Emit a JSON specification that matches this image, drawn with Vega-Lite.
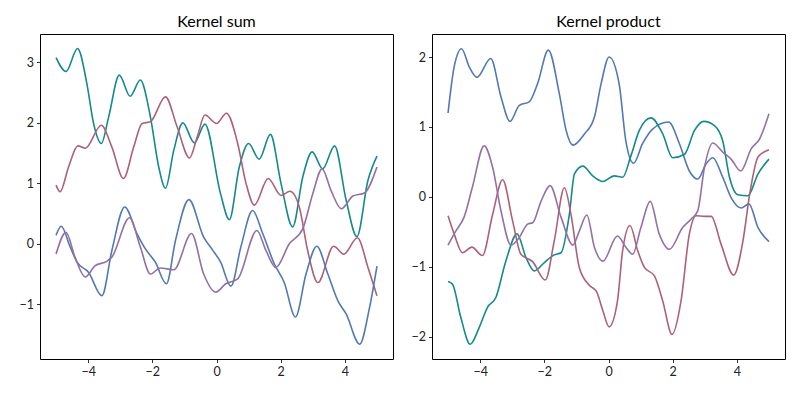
{
  "$schema": "https://vega.github.io/schema/vega-lite/v6.json",
  "background": "white",
  "padding": {"left": 18, "top": 13, "right": 10, "bottom": 10},
  "spacing": 39,
  "bounds": "flush",
  "config": {
    "view": {"stroke": "black", "strokeWidth": 1},
    "font": "Lato",
    "title": {"fontSize": 16, "fontWeight": "normal", "font": "Lato", "color": "black", "offset": 4},
    "axis": {
      "domain": false,
      "grid": false,
      "ticks": true,
      "tickColor": "black",
      "tickSize": 3.5,
      "tickWidth": 0.8,
      "labelColor": "#222222",
      "labelFont": "Lato",
      "labelFontSize": 12.5,
      "labelPadding": 3,
      "title": null
    },
    "line": {"strokeWidth": 1.6, "interpolate": "monotone"}
  },
  "datasets": {
    "sum": [
      {"series": "teal", "x": -5, "y": 3.08}, {"series": "teal", "x": -4.69, "y": 2.85}, {"series": "teal", "x": -4.33, "y": 3.23}, {"series": "teal", "x": -4.04, "y": 2.65}, {"series": "teal", "x": -3.83, "y": 1.99}, {"series": "teal", "x": -3.59, "y": 1.66}, {"series": "teal", "x": -3.36, "y": 2.1}, {"series": "teal", "x": -3.03, "y": 2.79}, {"series": "teal", "x": -2.69, "y": 2.44}, {"series": "teal", "x": -2.375, "y": 2.71}, {"series": "teal", "x": -2.06, "y": 2.1}, {"series": "teal", "x": -1.8, "y": 1.27}, {"series": "teal", "x": -1.59, "y": 0.92}, {"series": "teal", "x": -1.33, "y": 1.55}, {"series": "teal", "x": -1.05, "y": 2.0}, {"series": "teal", "x": -0.69, "y": 1.67}, {"series": "teal", "x": -0.36, "y": 1.98}, {"series": "teal", "x": 0.125, "y": 0.83}, {"series": "teal", "x": 0.4, "y": 0.4}, {"series": "teal", "x": 0.71, "y": 1.27}, {"series": "teal", "x": 1.0, "y": 1.66}, {"series": "teal", "x": 1.33, "y": 1.4}, {"series": "teal", "x": 1.68, "y": 1.81}, {"series": "teal", "x": 2.01, "y": 1.0}, {"series": "teal", "x": 2.375, "y": 0.28}, {"series": "teal", "x": 2.69, "y": 1.11}, {"series": "teal", "x": 2.98, "y": 1.52}, {"series": "teal", "x": 3.31, "y": 1.24}, {"series": "teal", "x": 3.68, "y": 1.62}, {"series": "teal", "x": 4.04, "y": 0.72}, {"series": "teal", "x": 4.375, "y": 0.12}, {"series": "teal", "x": 4.72, "y": 1.05}, {"series": "teal", "x": 5, "y": 1.45},
      {"series": "mauve", "x": -5, "y": 0.97}, {"series": "mauve", "x": -4.875, "y": 0.86}, {"series": "mauve", "x": -4.61, "y": 1.27}, {"series": "mauve", "x": -4.32, "y": 1.62}, {"series": "mauve", "x": -4.09, "y": 1.58}, {"series": "mauve", "x": -3.59, "y": 1.96}, {"series": "mauve", "x": -3.26, "y": 1.6}, {"series": "mauve", "x": -2.9, "y": 1.08}, {"series": "mauve", "x": -2.58, "y": 1.6}, {"series": "mauve", "x": -2.32, "y": 1.99}, {"series": "mauve", "x": -2.06, "y": 2.02}, {"series": "mauve", "x": -1.59, "y": 2.43}, {"series": "mauve", "x": -1.23, "y": 1.94}, {"series": "mauve", "x": -0.84, "y": 1.42}, {"series": "mauve", "x": -0.6, "y": 1.77}, {"series": "mauve", "x": -0.36, "y": 2.13}, {"series": "mauve", "x": 0, "y": 1.99}, {"series": "mauve", "x": 0.31, "y": 2.16}, {"series": "mauve", "x": 0.66, "y": 1.66}, {"series": "mauve", "x": 0.92, "y": 1.0}, {"series": "mauve", "x": 1.18, "y": 0.64}, {"series": "mauve", "x": 1.61, "y": 1.08}, {"series": "mauve", "x": 2.01, "y": 0.8}, {"series": "mauve", "x": 2.29, "y": 0.87}, {"series": "mauve", "x": 2.58, "y": 0.61}, {"series": "mauve", "x": 2.84, "y": -0.11}, {"series": "mauve", "x": 3.16, "y": -0.64}, {"series": "mauve", "x": 3.65, "y": -0.04}, {"series": "mauve", "x": 3.97, "y": -0.17}, {"series": "mauve", "x": 4.39, "y": 0.1}, {"series": "mauve", "x": 4.72, "y": -0.39}, {"series": "mauve", "x": 5, "y": -0.86},
      {"series": "blue", "x": -5, "y": 0.14}, {"series": "blue", "x": -4.84, "y": 0.29}, {"series": "blue", "x": -4.56, "y": -0.05}, {"series": "blue", "x": -4.35, "y": -0.3}, {"series": "blue", "x": -3.99, "y": -0.47}, {"series": "blue", "x": -3.57, "y": -0.86}, {"series": "blue", "x": -3.26, "y": -0.11}, {"series": "blue", "x": -2.86, "y": 0.61}, {"series": "blue", "x": -2.48, "y": 0.17}, {"series": "blue", "x": -2.22, "y": -0.08}, {"series": "blue", "x": -1.91, "y": -0.3}, {"series": "blue", "x": -1.56, "y": -0.66}, {"series": "blue", "x": -1.28, "y": 0.05}, {"series": "blue", "x": -0.86, "y": 0.73}, {"series": "blue", "x": -0.4, "y": 0.11}, {"series": "blue", "x": -0.125, "y": -0.1}, {"series": "blue", "x": 0.125, "y": -0.3}, {"series": "blue", "x": 0.45, "y": -0.7}, {"series": "blue", "x": 0.76, "y": -0.05}, {"series": "blue", "x": 1.125, "y": 0.55}, {"series": "blue", "x": 1.44, "y": 0.17}, {"series": "blue", "x": 1.8, "y": -0.33}, {"series": "blue", "x": 2.11, "y": -0.64}, {"series": "blue", "x": 2.46, "y": -1.21}, {"series": "blue", "x": 2.79, "y": -0.5}, {"series": "blue", "x": 3.125, "y": -0.04}, {"series": "blue", "x": 3.47, "y": -0.5}, {"series": "blue", "x": 3.78, "y": -0.94}, {"series": "blue", "x": 4.04, "y": -1.16}, {"series": "blue", "x": 4.46, "y": -1.66}, {"series": "blue", "x": 4.77, "y": -1.05}, {"series": "blue", "x": 5, "y": -0.37},
      {"series": "purple", "x": -5, "y": -0.17}, {"series": "purple", "x": -4.69, "y": 0.19}, {"series": "purple", "x": -4.41, "y": -0.22}, {"series": "purple", "x": -4.09, "y": -0.55}, {"series": "purple", "x": -3.78, "y": -0.36}, {"series": "purple", "x": -3.42, "y": -0.29}, {"series": "purple", "x": -3.26, "y": -0.22}, {"series": "purple", "x": -2.71, "y": 0.43}, {"series": "purple", "x": -2.375, "y": -0.05}, {"series": "purple", "x": -2.06, "y": -0.5}, {"series": "purple", "x": -1.75, "y": -0.4}, {"series": "purple", "x": -1.33, "y": -0.43}, {"series": "purple", "x": -0.78, "y": 0.17}, {"series": "purple", "x": -0.4, "y": -0.5}, {"series": "purple", "x": -0.03, "y": -0.8}, {"series": "purple", "x": 0.29, "y": -0.66}, {"series": "purple", "x": 0.66, "y": -0.58}, {"series": "purple", "x": 1.26, "y": 0.22}, {"series": "purple", "x": 1.54, "y": -0.11}, {"series": "purple", "x": 1.85, "y": -0.39}, {"series": "purple", "x": 2.27, "y": 0.0}, {"series": "purple", "x": 2.69, "y": 0.25}, {"series": "purple", "x": 3.0, "y": 0.83}, {"series": "purple", "x": 3.29, "y": 1.24}, {"series": "purple", "x": 3.57, "y": 0.88}, {"series": "purple", "x": 3.89, "y": 0.58}, {"series": "purple", "x": 4.25, "y": 0.79}, {"series": "purple", "x": 4.61, "y": 0.84}, {"series": "purple", "x": 5, "y": 1.27}
    ],
    "product": [
      {"series": "blue", "x": -5, "y": 1.2}, {"series": "blue", "x": -4.81, "y": 1.86}, {"series": "blue", "x": -4.58, "y": 2.12}, {"series": "blue", "x": -4.34, "y": 1.86}, {"series": "blue", "x": -4.1, "y": 1.71}, {"series": "blue", "x": -3.67, "y": 1.98}, {"series": "blue", "x": -3.35, "y": 1.43}, {"series": "blue", "x": -3.07, "y": 1.08}, {"series": "blue", "x": -2.78, "y": 1.31}, {"series": "blue", "x": -2.47, "y": 1.36}, {"series": "blue", "x": -2.21, "y": 1.62}, {"series": "blue", "x": -1.875, "y": 2.1}, {"series": "blue", "x": -1.53, "y": 1.47}, {"series": "blue", "x": -1.32, "y": 0.95}, {"series": "blue", "x": -1.11, "y": 0.74}, {"series": "blue", "x": -0.75, "y": 0.9}, {"series": "blue", "x": -0.44, "y": 1.14}, {"series": "blue", "x": -0.23, "y": 1.62}, {"series": "blue", "x": 0.02, "y": 2.0}, {"series": "blue", "x": 0.33, "y": 1.62}, {"series": "blue", "x": 0.54, "y": 0.8}, {"series": "blue", "x": 0.78, "y": 0.48}, {"series": "blue", "x": 1.06, "y": 0.76}, {"series": "blue", "x": 1.375, "y": 0.97}, {"series": "blue", "x": 1.875, "y": 1.07}, {"series": "blue", "x": 2.21, "y": 0.76}, {"series": "blue", "x": 2.52, "y": 0.37}, {"series": "blue", "x": 2.78, "y": 0.255}, {"series": "blue", "x": 3.04, "y": 0.47}, {"series": "blue", "x": 3.25, "y": 0.56}, {"series": "blue", "x": 3.56, "y": 0.28}, {"series": "blue", "x": 3.82, "y": -0.01}, {"series": "blue", "x": 4.14, "y": -0.16}, {"series": "blue", "x": 4.375, "y": -0.1}, {"series": "blue", "x": 4.66, "y": -0.44}, {"series": "blue", "x": 5, "y": -0.64},
      {"series": "teal", "x": -5, "y": -1.21}, {"series": "teal", "x": -4.86, "y": -1.25}, {"series": "teal", "x": -4.6, "y": -1.73}, {"series": "teal", "x": -4.31, "y": -2.11}, {"series": "teal", "x": -4.03, "y": -1.87}, {"series": "teal", "x": -3.77, "y": -1.58}, {"series": "teal", "x": -3.51, "y": -1.44}, {"series": "teal", "x": -3.2, "y": -0.92}, {"series": "teal", "x": -2.85, "y": -0.53}, {"series": "teal", "x": -2.57, "y": -0.87}, {"series": "teal", "x": -2.31, "y": -1.06}, {"series": "teal", "x": -2.0, "y": -0.94}, {"series": "teal", "x": -1.69, "y": -0.83}, {"series": "teal", "x": -1.48, "y": -0.8}, {"series": "teal", "x": -1.22, "y": -0.25}, {"series": "teal", "x": -1.06, "y": 0.33}, {"series": "teal", "x": -0.8, "y": 0.44}, {"series": "teal", "x": -0.49, "y": 0.3}, {"series": "teal", "x": -0.175, "y": 0.22}, {"series": "teal", "x": 0.18, "y": 0.3}, {"series": "teal", "x": 0.44, "y": 0.28}, {"series": "teal", "x": 0.7, "y": 0.59}, {"series": "teal", "x": 0.96, "y": 0.95}, {"series": "teal", "x": 1.325, "y": 1.13}, {"series": "teal", "x": 1.69, "y": 0.9}, {"series": "teal", "x": 2.0, "y": 0.56}, {"series": "teal", "x": 2.37, "y": 0.61}, {"series": "teal", "x": 2.68, "y": 0.95}, {"series": "teal", "x": 2.97, "y": 1.08}, {"series": "teal", "x": 3.3, "y": 1.02}, {"series": "teal", "x": 3.56, "y": 0.8}, {"series": "teal", "x": 3.77, "y": 0.28}, {"series": "teal", "x": 4.03, "y": 0.03}, {"series": "teal", "x": 4.34, "y": 0.016}, {"series": "teal", "x": 4.66, "y": 0.33}, {"series": "teal", "x": 5, "y": 0.54},
      {"series": "mauve", "x": -5, "y": -0.27}, {"series": "mauve", "x": -4.81, "y": -0.53}, {"series": "mauve", "x": -4.55, "y": -0.8}, {"series": "mauve", "x": -4.26, "y": -0.72}, {"series": "mauve", "x": -3.93, "y": -0.84}, {"series": "mauve", "x": -3.61, "y": -0.25}, {"series": "mauve", "x": -3.3, "y": 0.245}, {"series": "mauve", "x": -2.99, "y": -0.34}, {"series": "mauve", "x": -2.73, "y": -0.82}, {"series": "mauve", "x": -2.36, "y": -0.93}, {"series": "mauve", "x": -1.97, "y": -1.19}, {"series": "mauve", "x": -1.69, "y": -0.63}, {"series": "mauve", "x": -1.375, "y": 0.13}, {"series": "mauve", "x": -1.17, "y": -0.25}, {"series": "mauve", "x": -0.91, "y": -1.01}, {"series": "mauve", "x": -0.59, "y": -1.27}, {"series": "mauve", "x": -0.38, "y": -1.35}, {"series": "mauve", "x": -0.175, "y": -1.63}, {"series": "mauve", "x": 0.02, "y": -1.86}, {"series": "mauve", "x": 0.28, "y": -1.49}, {"series": "mauve", "x": 0.44, "y": -0.77}, {"series": "mauve", "x": 0.67, "y": -0.41}, {"series": "mauve", "x": 0.91, "y": -0.77}, {"series": "mauve", "x": 1.12, "y": -1.01}, {"series": "mauve", "x": 1.43, "y": -1.13}, {"series": "mauve", "x": 1.69, "y": -1.49}, {"series": "mauve", "x": 1.98, "y": -1.97}, {"series": "mauve", "x": 2.26, "y": -1.49}, {"series": "mauve", "x": 2.52, "y": -0.53}, {"series": "mauve", "x": 2.73, "y": -0.27}, {"series": "mauve", "x": 2.99, "y": -0.28}, {"series": "mauve", "x": 3.2, "y": -0.28}, {"series": "mauve", "x": 3.51, "y": -0.68}, {"series": "mauve", "x": 3.9, "y": -1.12}, {"series": "mauve", "x": 4.19, "y": -0.63}, {"series": "mauve", "x": 4.4, "y": 0.04}, {"series": "mauve", "x": 4.66, "y": 0.57}, {"series": "mauve", "x": 5, "y": 0.675},
      {"series": "purple", "x": -5, "y": -0.69}, {"series": "purple", "x": -4.76, "y": -0.49}, {"series": "purple", "x": -4.5, "y": -0.29}, {"series": "purple", "x": -4.24, "y": 0.14}, {"series": "purple", "x": -3.875, "y": 0.73}, {"series": "purple", "x": -3.61, "y": 0.42}, {"series": "purple", "x": -3.35, "y": -0.2}, {"series": "purple", "x": -3.04, "y": -0.69}, {"series": "purple", "x": -2.78, "y": -0.58}, {"series": "purple", "x": -2.52, "y": -0.39}, {"series": "purple", "x": -2.36, "y": -0.37}, {"series": "purple", "x": -2.1, "y": -0.06}, {"series": "purple", "x": -1.82, "y": 0.16}, {"series": "purple", "x": -1.48, "y": -0.29}, {"series": "purple", "x": -1.11, "y": -0.69}, {"series": "purple", "x": -0.91, "y": -0.49}, {"series": "purple", "x": -0.675, "y": -0.26}, {"series": "purple", "x": -0.44, "y": -0.72}, {"series": "purple", "x": -0.175, "y": -0.92}, {"series": "purple", "x": 0.28, "y": -0.56}, {"series": "purple", "x": 0.54, "y": -0.72}, {"series": "purple", "x": 0.75, "y": -0.82}, {"series": "purple", "x": 1.01, "y": -0.44}, {"series": "purple", "x": 1.3, "y": -0.065}, {"series": "purple", "x": 1.58, "y": -0.53}, {"series": "purple", "x": 1.9, "y": -0.75}, {"series": "purple", "x": 2.31, "y": -0.44}, {"series": "purple", "x": 2.57, "y": -0.32}, {"series": "purple", "x": 2.78, "y": -0.2}, {"series": "purple", "x": 2.99, "y": 0.42}, {"series": "purple", "x": 3.25, "y": 0.77}, {"series": "purple", "x": 3.56, "y": 0.64}, {"series": "purple", "x": 3.82, "y": 0.54}, {"series": "purple", "x": 4.12, "y": 0.37}, {"series": "purple", "x": 4.45, "y": 0.69}, {"series": "purple", "x": 4.71, "y": 0.83}, {"series": "purple", "x": 5, "y": 1.19}
    ]
  },
  "hconcat": [
    {
      "title": "Kernel sum",
      "width": 353,
      "height": 325,
      "data": {"name": "sum"},
      "mark": {"type": "line"},
      "encoding": {
        "x": {"field": "x", "type": "quantitative", "scale": {"domain": [-5.5, 5.5], "nice": false, "zero": false}, "axis": {"values": [-4, -2, 0, 2, 4], "format": "d"}},
        "y": {"field": "y", "type": "quantitative", "scale": {"domain": [-1.905, 3.47], "nice": false, "zero": false}, "axis": {"values": [-1, 0, 1, 2, 3], "format": "d"}},
        "color": {"field": "series", "type": "nominal", "legend": null, "scale": {"domain": ["teal", "mauve", "blue", "purple"], "range": ["#148a8f", "#ad6177", "#5179b3", "#9271a8"]}}
      }
    },
    {
      "title": "Kernel product",
      "width": 353,
      "height": 325,
      "data": {"name": "product"},
      "mark": {"type": "line"},
      "encoding": {
        "x": {"field": "x", "type": "quantitative", "scale": {"domain": [-5.5, 5.5], "nice": false, "zero": false}, "axis": {"values": [-4, -2, 0, 2, 4], "format": "d"}},
        "y": {"field": "y", "type": "quantitative", "scale": {"domain": [-2.32, 2.33], "nice": false, "zero": false}, "axis": {"values": [-2, -1, 0, 1, 2], "format": "d"}},
        "color": {"field": "series", "type": "nominal", "legend": null, "scale": {"domain": ["teal", "mauve", "blue", "purple"], "range": ["#148a8f", "#ad6177", "#5179b3", "#9271a8"]}}
      }
    }
  ]
}
